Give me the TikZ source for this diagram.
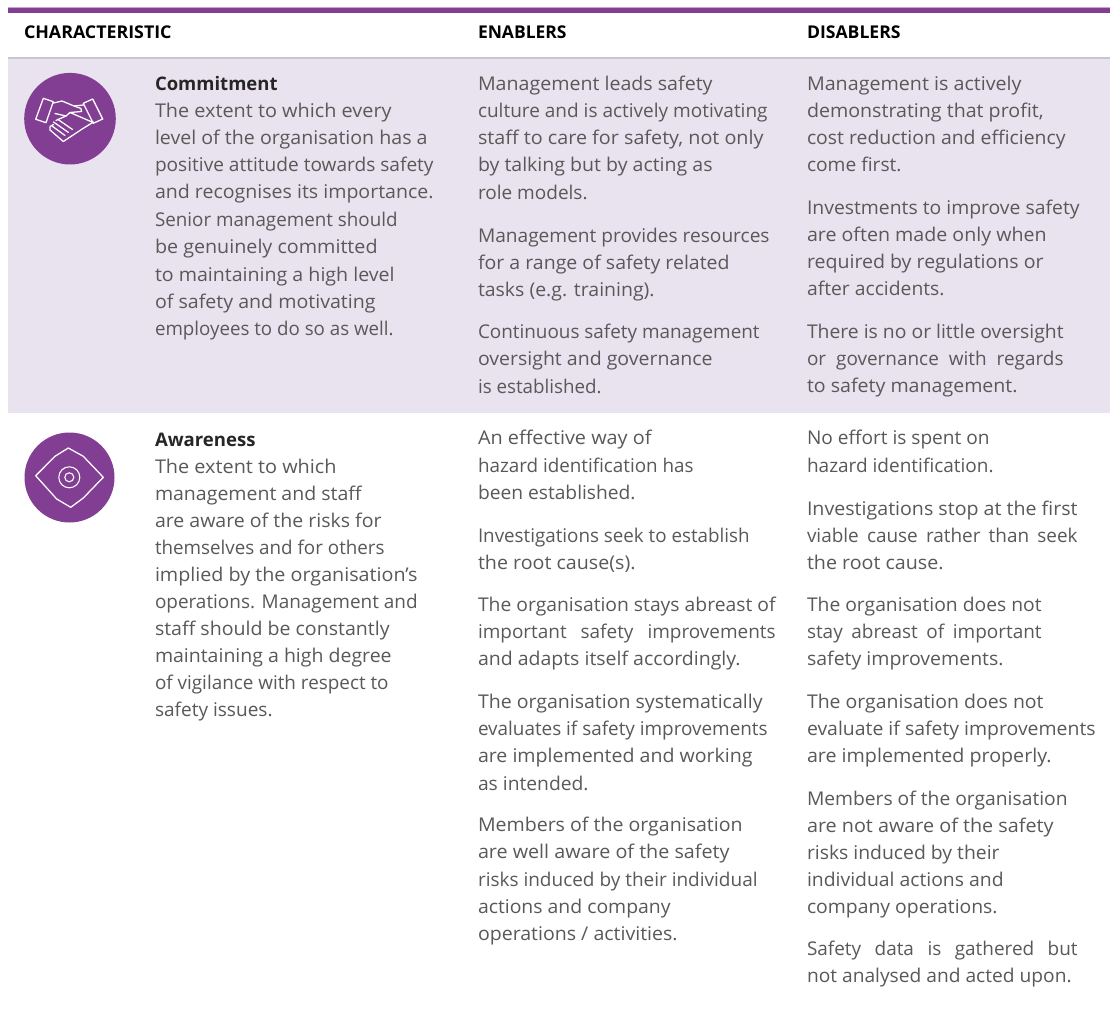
\documentclass[tikz,border=0pt]{standalone}
\usepackage{fontspec}
\usepackage{graphicx}
\setmainfont{Open Sans}
\definecolor{purp}{HTML}{823E93}
\definecolor{purplite}{HTML}{C6A6CE}
\definecolor{band}{HTML}{E9E2EF}
\definecolor{rulegray}{HTML}{C9C5D2}
\definecolor{bodytxt}{HTML}{595959}
\definecolor{headtxt}{HTML}{262626}
\newcounter{ln}
\newlength{\lnwd}
% scale a line horizontally so that it ends where the reference's line ends
\newcommand{\fitscale}[3]{\settowidth{\lnwd}{#3}\pgfmathsetmacro{\sxval}{(#2-#1+0.6)*0.75/\lnwd}\scalebox{\sxval}[1]{#3}}
% stretch the spaces of a justified line
\newcommand{\fitspace}[3]{\pgfmathsetlengthmacro{\tgtwd}{(#2-#1+0.6)*0.75}\spaceskip=.26em plus 1fil minus .15em\makebox[\tgtwd][s]{#3}}
\newcommand{\bodyline}[4]{\stepcounter{ln}\node[bodyline] (t\theln) at (#1,#2) {\fitscale{#1}{#3}{#4}};}
\newcommand{\justline}[4]{\stepcounter{ln}\node[bodyline] (t\theln) at (#1,#2) {\fitspace{#1}{#3}{#4}};}
\newcommand{\headline}[4]{\stepcounter{ln}\node[headline] (t\theln) at (#1,#2) {\fitscale{#1}{#3}{#4}};}
\newcommand{\capline}[4]{\stepcounter{ln}\node[capline] (t\theln) at (#1,#2) {\fitscale{#1}{#3}{#4}};}
\tikzset{
 bodyline/.style={anchor=base west,inner sep=0,outer sep=0,text=bodytxt,font=\fontsize{14.2pt}{17pt}\selectfont},
 headline/.style={anchor=base west,inner sep=0,outer sep=0,text=headtxt,font=\fontsize{14pt}{17pt}\selectfont\bfseries},
 capline/.style={anchor=base west,inner sep=0,outer sep=0,text=black,font=\fontsize{13.2pt}{15pt}\selectfont\bfseries},
 iconline/.style={draw=white,line width=.95pt,line join=round,line cap=round},
}
\begin{document}
\begin{tikzpicture}[x=.75pt,y=-.75pt]
\useasboundingbox (0,0) rectangle (1110,1012);
\fill[white] (0,0) rectangle (1110,1012);
\fill[purplite] (8,7.4) rectangle (1110,8.4);
\fill[purp] (8,8.4) rectangle (1110,12.8);
\fill[band] (8,58) rectangle (1110,413);
\fill[rulegray] (8,57) rectangle (1110,59);
\capline{24}{38.5}{171}{CHARACTERISTIC}
\capline{478}{38.5}{566}{ENABLERS}
\capline{807}{38.5}{900}{DISABLERS}
% icons
\fill[purp] (70,118.7) circle (45.8);
\fill[purp] (69.5,477.5) circle (45);
\draw[iconline] (35.7,119.3)--(43.3,98.3)--(53.3,101.7)--(46,122.7)--cycle;
\draw[iconline] (83.3,103.3)--(92.7,99)--(102.7,119)--(93.3,123.3)--cycle;
\draw[iconline] (53.5,103)--(62,101)--(74,106)--(81,108.5)--(81.5,111.5)--(70,112.5)--(66,116)--(55,113.5);
\draw[iconline] (74,106)--(83.5,105);
\draw[iconline] (93.5,122)--(83.3,128.3)--(63.3,141.5)--(50,130)--(50,126.5)--(53.5,124.5);
\draw[iconline] (52,126)--(65,135.5) (53.5,122)--(68.5,132.5) (56,120.5)--(58,119.5)--(72.5,129.5);
\draw[iconline] (58,119.5)--(66,116) (70,112.5)--(92,122);
\draw[iconline] (35.7,475.7)--(55,456.3)--(68.3,448)--(83.3,456.3)--(103.3,477.3)--(83.3,498)--(70.7,507.3)--(56.7,499)--cycle;
\draw[white,line width=.8pt] (69.3,477.3) circle (10.5);
\draw[white,line width=.8pt] (69.3,477.3) circle (4.5);
% commitment
\headline{155}{91}{277}{Commitment}
\bodyline{155}{118}{391}{The extent to which every}
\bodyline{155}{144.8}{427}{level of the organisation has a}
\bodyline{155}{171.8}{433}{positive attitude towards safety}
\bodyline{155}{198.8}{433}{and recognises its importance.}
\bodyline{155}{226.3}{397}{Senior management should}
\bodyline{155}{253.3}{377}{be genuinely committed}
\bodyline{155}{281.5}{394}{to maintaining a high level}
\bodyline{155}{308.5}{375}{of safety and motivating}
\bodyline{155}{335.5}{393}{employees to do so as well.}
\bodyline{478}{91}{712}{Management leads safety}
\bodyline{478}{118}{767}{culture and is actively motivating}
\bodyline{478}{145}{763}{staff to care for safety, not only}
\bodyline{478}{172}{712}{by talking but by acting as}
\bodyline{478}{200}{587}{role models.}
\bodyline{478}{242.5}{769}{Management provides resources}
\bodyline{478}{269.5}{729}{for a range of safety related}
\bodyline{478}{297}{654}{tasks (e.g. training).}
\bodyline{478}{338.5}{759}{Continuous safety management}
\bodyline{478}{365.5}{712}{oversight and governance}
\bodyline{478}{393}{601}{is established.}
\bodyline{807}{91}{1021}{Management is actively}
\bodyline{807}{118}{1043}{demonstrating that profit,}
\bodyline{807}{145}{1065}{cost reduction and efficiency}
\bodyline{807}{172}{901}{come first.}
\bodyline{807}{214.5}{1079}{Investments to improve safety}
\bodyline{807}{241.5}{1046}{are often made only when}
\bodyline{807}{268.5}{1043}{required by regulations or}
\bodyline{807}{296}{944}{after accidents.}
\bodyline{807}{338.5}{1063}{There is no or little oversight}
\justline{807}{365.5}{1063}{or governance with regards}
\bodyline{807}{392.5}{1017}{to safety management.}
% awareness
\headline{155}{446}{255}{Awareness}
\bodyline{155}{473}{336}{The extent to which}
\bodyline{155}{500}{361}{management and staff}
\bodyline{155}{527}{381}{are aware of the risks for}
\bodyline{155}{554}{384}{themselves and for others}
\bodyline{155}{581}{417}{implied by the organisation’s}
\bodyline{155}{608}{417}{operations. Management and}
\bodyline{155}{635}{389}{staff should be constantly}
\bodyline{155}{662}{391}{maintaining a high degree}
\bodyline{155}{689.5}{388}{of vigilance with respect to}
\bodyline{155}{716.5}{272}{safety issues.}
\bodyline{478}{445}{651}{An effective way of}
\bodyline{478}{472}{693}{hazard identification has}
\bodyline{478}{499}{635}{been established.}
\bodyline{478}{542}{749}{Investigations seek to establish}
\bodyline{478}{569}{635}{the root cause(s).}
\bodyline{478}{611}{775}{The organisation stays abreast of}
\justline{478}{638}{775}{important safety improvements}
\bodyline{478}{665}{740}{and adapts itself accordingly.}
\bodyline{478}{708}{762}{The organisation systematically}
\bodyline{478}{735}{767}{evaluates if safety improvements}
\bodyline{478}{762}{752}{are implemented and working}
\bodyline{478}{790}{588}{as intended.}
\bodyline{478}{831}{742}{Members of the organisation}
\bodyline{478}{858}{729}{are well aware of the safety}
\bodyline{478}{886}{757}{risks induced by their individual}
\bodyline{478}{913}{670}{actions and company}
\bodyline{478}{940}{677}{operations / activities.}
\bodyline{807}{445}{989}{No effort is spent on}
\bodyline{807}{472}{993}{hazard identification.}
\bodyline{807}{515}{1077}{Investigations stop at the first}
\justline{807}{542}{1077}{viable cause rather than seek}
\bodyline{807}{569}{943}{the root cause.}
\bodyline{807}{611}{1041}{The organisation does not}
\justline{807}{638}{1041}{stay abreast of important}
\bodyline{807}{665}{1003}{safety improvements.}
\bodyline{807}{708}{1043}{The organisation does not}
\bodyline{807}{735}{1095}{evaluate if safety improvements}
\bodyline{807}{762}{1051}{are implemented properly.}
\bodyline{807}{805}{1067}{Members of the organisation}
\bodyline{807}{832}{1053}{are not aware of the safety}
\bodyline{807}{859}{999}{risks induced by their}
\bodyline{807}{886}{1003}{individual actions and}
\bodyline{807}{913}{997}{company operations.}
\justline{807}{955}{1077}{Safety data is gathered but}
\bodyline{807}{982}{1071}{not analysed and acted upon.}
\end{tikzpicture}
\end{document}
